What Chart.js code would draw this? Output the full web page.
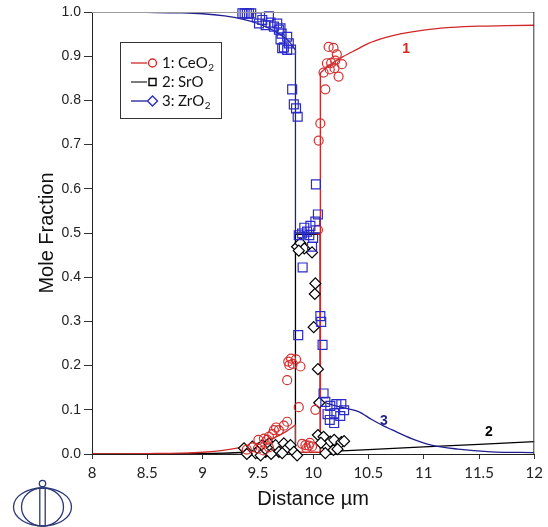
<!DOCTYPE html>
<html><head><meta charset="utf-8">
<script src="https://cdn.jsdelivr.net/npm/chart.js@4.4.1/dist/chart.umd.min.js"></script>
<style>html,body{margin:0;padding:0;background:#fff}canvas{display:block}</style>
</head><body>
<canvas id="c" width="548" height="527" style="width:548px;height:527px"></canvas>
<script>
// ---- tick labels ----
const xTickLabels = ['8','8.5','9','9.5','10','10.5','11','11.5','12'];
const yTickLabels = ['0.0','0.1','0.2','0.3','0.4','0.5','0.6','0.7','0.8','0.9','1.0'];
const axisTitles = ['Distance \u00b5m','Mole Fraction'];

// ---- legend / series names ----
const seriesNums = ['1:','2:','3:'];
const seriesNames = ['CeO','SrO','ZrO'];
const seriesSubs = ['2','','2'];
const curveLabels = ['1','2','3'];
const curveLabelX = [10.84, 11.59, 10.64];
const curveLabelY = [0.916, 0.050, 0.075];

// ---- calculated profiles: CeO2 (1) ----
const ceLeftX  = [8.0, 8.5, 8.8, 9.0, 9.2, 9.4, 9.55, 9.65, 9.75, 9.84];
const ceLeftY  = [0.000, 0.001, 0.002, 0.004, 0.009, 0.018, 0.028, 0.037, 0.050, 0.066];
const ceMidX   = [9.84, 9.84, 10.065, 10.065];
const ceMidY   = [0.066, 0.004, 0.004, 0.862];
const ceRightX = [10.065, 10.15, 10.27, 10.4, 10.5, 10.65, 10.8, 11.0, 11.25, 11.5, 11.75, 12.0];
const ceRightY = [0.862, 0.880, 0.899, 0.916, 0.929, 0.942, 0.951, 0.959, 0.965, 0.968, 0.969, 0.970];

// ---- calculated profiles: SrO (2) ----
const srLeftX  = [8.0, 9.0, 9.4, 9.6, 9.75, 9.84];
const srLeftY  = [0.000, 0.001, 0.004, 0.007, 0.011, 0.016];
const srMidX   = [9.84, 9.84, 10.065, 10.065];
const srMidY   = [0.016, 0.497, 0.497, 0.005];
const srRightX = [10.065, 10.5, 11.0, 11.5, 12.0];
const srRightY = [0.005, 0.010, 0.016, 0.022, 0.028];

// ---- calculated profiles: ZrO2 (3) ----
const zrLeftX  = [8.0, 8.5, 8.8, 9.0, 9.2, 9.36, 9.5, 9.57, 9.65, 9.72, 9.78, 9.84];
const zrLeftY  = [1.000, 0.999, 0.998, 0.996, 0.991, 0.984, 0.974, 0.967, 0.957, 0.946, 0.934, 0.914];
const zrMidX   = [9.84, 9.84, 10.065, 10.065];
const zrMidY   = [0.914, 0.500, 0.500, 0.120];
const zrRightX = [10.065, 10.15, 10.25, 10.41, 10.53, 10.64, 10.71, 10.89, 11.07, 11.31, 11.61, 12.0];
const zrRightY = [0.120, 0.113, 0.106, 0.096, 0.078, 0.063, 0.055, 0.035, 0.020, 0.011, 0.005, 0.003];

// ---- measured points: CeO2 (circles) ----
const ceExpX = [10.14, 10.184, 10.214, 10.124, 10.163, 10.193, 10.26, 10.23, 10.094, 10.11, 10.15, 10.2, 10.065, 10.05, 10.043,
  9.775, 9.80, 9.785, 9.845, 9.885, 9.815, 9.765, 9.87, 10.02,
  9.765, 9.735, 9.69, 9.665, 9.645, 9.63, 9.6, 9.585, 9.555, 9.505,
  9.90, 9.93, 9.96, 9.99, 9.45, 9.40, 9.50, 9.55, 9.60, 9.97, 9.94];
const ceExpY = [0.921, 0.919, 0.904, 0.884, 0.885, 0.873, 0.882, 0.854, 0.863, 0.825, 0.870, 0.890, 0.748, 0.709, 0.507,
  0.209, 0.216, 0.201, 0.214, 0.198, 0.204, 0.167, 0.106, 0.100,
  0.073, 0.064, 0.054, 0.060, 0.054, 0.045, 0.039, 0.032, 0.035, 0.032,
  0.023, 0.020, 0.019, 0.017, 0.015, 0.010, 0.012, 0.008, 0.015, 0.025, 0.013];

// ---- measured points: SrO (diamonds) ----
const srExpX = [9.855, 9.885, 9.92, 9.99, 9.87,
  10.02, 10.015, 10.005, 10.043, 10.055,
  10.043, 10.094, 10.124, 10.155, 10.184, 10.11, 10.19, 10.255, 10.22, 10.28, 10.07,
  9.375, 9.42, 9.45, 9.48, 9.51, 9.54, 9.57, 9.60, 9.63, 9.66, 9.69, 9.735, 9.765, 9.795, 9.825, 9.855, 9.525, 9.40, 9.62, 9.72];
const srExpY = [0.469, 0.477, 0.465, 0.456, 0.460,
  0.386, 0.362, 0.287, 0.192, 0.116,
  0.043, 0.039, 0.017, 0.028, 0.009, 0.002, 0.032, 0.027, 0.011, 0.029, 0.025,
  0.013, 0.005, 0.017, 0.002, 0.009, 0.020, 0.005, 0.024, 0.013, 0.020, 0.005, 0.024, 0.013, 0.020, 0.005, -0.003, -0.003, 0.000, 0.000, 0.002];

// ---- measured points: ZrO2 (squares) ----
const zrExpX = [9.36, 9.38, 9.40, 9.42, 9.44, 9.49, 9.51, 9.54, 9.60, 9.615, 9.57, 9.645, 9.675, 9.69, 9.705, 9.715, 9.705, 9.765, 9.78, 9.735, 9.80, 9.72, 9.765,
  9.81, 9.825, 9.845, 9.86,
  10.025, 10.043, 10.02, 9.975, 9.92, 9.87, 9.90, 9.945, 10.0, 9.99, 9.905, 9.965,
  9.865, 10.065, 10.073, 10.085,
  10.094, 10.11, 10.155, 10.21, 10.255, 10.28, 10.13, 10.19, 10.245, 10.19, 10.15];
const zrExpY = [0.997, 0.997, 0.997, 0.997, 0.997, 0.988, 0.974, 0.982, 0.990, 0.976, 0.970, 0.967, 0.974, 0.960, 0.963, 0.951, 0.938, 0.944, 0.929, 0.920, 0.915, 0.918, 0.914,
  0.825, 0.791, 0.782, 0.763,
  0.610, 0.542, 0.526, 0.516, 0.512, 0.495, 0.499, 0.503, 0.489, 0.469, 0.422, 0.495,
  0.269, 0.312, 0.299, 0.247,
  0.137, 0.118, 0.109, 0.113, 0.113, 0.099, 0.090, 0.092, 0.086, 0.070, 0.077];

const zip = (xs, ys) => xs.map((x, i) => ({x, y: ys[i]}));

const RED = '#d02828', BLUE = '#1f1f8f', BLACK = '#000000';
const RED_M = '#d43030', BLUE_M = '#2b2bc8';

function curve(xs, ys, color, smooth, order) {
  return {
    type: 'scatter', data: zip(xs, ys), showLine: true, pointRadius: 0, pointHoverRadius: 0,
    borderColor: color, borderWidth: 1.3, fill: false,
    cubicInterpolationMode: smooth ? 'monotone' : 'default', tension: 0, order
  };
}

const datasets = [
  curve(srLeftX, srLeftY, BLACK, true, 12), curve(srMidX, srMidY, BLACK, false, 12), curve(srRightX, srRightY, BLACK, false, 12),
  curve(zrLeftX, zrLeftY, BLUE, true, 11), curve(zrMidX, zrMidY, BLUE, false, 11), curve(zrRightX, zrRightY, BLUE, true, 11),
  curve(ceLeftX, ceLeftY, RED, true, 10), curve(ceMidX, ceMidY, RED, false, 10), curve(ceRightX, ceRightY, RED, true, 10),
  { type: 'scatter', data: zip(srExpX, srExpY), pointStyle: 'rectRot', pointRadius: 5.5, pointBorderWidth: 1.2,
    pointBorderColor: BLACK, pointBackgroundColor: '#ffffff', showLine: false, clip: false, order: 3 },
  { type: 'scatter', data: zip(ceExpX, ceExpY), pointStyle: 'circle', pointRadius: 4.5, pointBorderWidth: 1.2,
    pointBorderColor: RED_M, pointBackgroundColor: 'rgba(0,0,0,0)', showLine: false, clip: false, order: 2 },
  { type: 'scatter', data: zip(zrExpX, zrExpY), pointStyle: 'rect', pointRadius: 6.3, pointBorderWidth: 1.2,
    pointBorderColor: BLUE_M, pointBackgroundColor: 'rgba(0,0,0,0)', showLine: false, clip: false, order: 1 }
];

const decor = {
  id: 'decor',
  afterDatasetsDraw(chart) {
    const {ctx, chartArea: a} = chart;
    ctx.save();
    ctx.lineWidth = 1;
    ctx.strokeStyle = '#9a9a9a';
    ctx.beginPath(); ctx.moveTo(a.left, a.top + 0.5); ctx.lineTo(a.right, a.top + 0.5); ctx.stroke();
    ctx.strokeStyle = '#333';
    ctx.beginPath(); ctx.moveTo(a.right - 0.5, a.top); ctx.lineTo(a.right - 0.5, a.bottom); ctx.stroke();
    ctx.restore();
  },
  afterDraw(chart) {
    const {ctx} = chart;
    const xs = chart.scales.x, ys = chart.scales.y;
    ctx.save();
    // curve number labels
    const lc = [RED, BLACK, BLUE];
    ctx.font = 'bold 14px "Liberation Sans", Arial, sans-serif';
    ctx.textAlign = 'center'; ctx.textBaseline = 'middle';
    curveLabels.forEach((t, i) => {
      ctx.fillStyle = lc[i];
      ctx.fillText(t, xs.getPixelForValue(curveLabelX[i]), ys.getPixelForValue(curveLabelY[i]));
    });
    // legend box
    const bx = 120.5, by = 42.5, bw = 101, bh = 76;
    ctx.strokeStyle = '#333'; ctx.lineWidth = 1;
    ctx.fillStyle = '#fff';
    ctx.fillRect(bx, by, bw, bh);
    ctx.strokeRect(bx, by, bw, bh);
    const rowY = [63, 82, 101];
    const lineCol = [RED, '#333', BLUE];
    const mCol = [RED_M, BLACK, BLUE_M];
    rowY.forEach((y, i) => {
      ctx.strokeStyle = lineCol[i]; ctx.lineWidth = 1.3;
      ctx.beginPath(); ctx.moveTo(131, y); ctx.lineTo(147, y); ctx.stroke();
      ctx.strokeStyle = mCol[i]; ctx.lineWidth = 1.4;
      ctx.beginPath();
      if (i === 0) ctx.arc(152.5, y, 4, 0, Math.PI * 2);
      else if (i === 1) ctx.rect(149, y - 3.5, 7, 7);
      else { ctx.moveTo(152.5, y - 5); ctx.lineTo(157.5, y); ctx.lineTo(152.5, y + 5); ctx.lineTo(147.5, y); ctx.closePath(); }
      ctx.stroke();
      ctx.fillStyle = '#111'; ctx.textAlign = 'left'; ctx.textBaseline = 'middle';
      ctx.font = '15px Lato, "Open Sans", sans-serif';
      ctx.fillText(seriesNums[i], 162, y);
      ctx.fillText(seriesNames[i], 178, y);
      const w = ctx.measureText(seriesNames[i]).width;
      if (seriesSubs[i]) {
        ctx.font = '10px Lato, "Open Sans", sans-serif';
        ctx.fillText(seriesSubs[i], 178 + w + 0.5, y + 5);
      }
    });
    // logo
    ctx.strokeStyle = '#2a3778'; ctx.lineWidth = 1.3;
    ctx.beginPath(); ctx.ellipse(42.5, 507, 29, 19, 0, 0, Math.PI * 2); ctx.stroke();
    ctx.beginPath(); ctx.ellipse(42.5, 507, 21, 19, 0, 0, Math.PI * 2); ctx.stroke();
    ctx.beginPath(); ctx.moveTo(39.8, 487.5); ctx.lineTo(39.8, 526); ctx.moveTo(45.2, 487.5); ctx.lineTo(45.2, 526); ctx.stroke();
    ctx.beginPath(); ctx.arc(42.5, 483.5, 3.2, 0, Math.PI * 2); ctx.stroke();
    ctx.restore();
  }
};

new Chart(document.getElementById('c'), {
  type: 'scatter',
  data: { datasets },
  options: {
    responsive: false, animation: false, devicePixelRatio: 1,
    layout: { padding: { left: 0, right: 11, top: 12, bottom: 0 } },
    plugins: { legend: { display: false }, tooltip: { enabled: false } },
    scales: {
      x: {
        type: 'linear', min: 8, max: 12,
        afterFit: s => { s.height = 73; },
        afterBuildTicks: s => { s.ticks = xTickLabels.map(v => ({value: parseFloat(v)})); },
        ticks: { autoSkip: false, maxRotation: 0, padding: 5, color: '#222',
          font: { family: 'Lato, "Open Sans", sans-serif', size: 15 },
          callback: (v, i) => xTickLabels[i] },
        grid: { display: true, drawOnChartArea: false, drawTicks: true, tickLength: 5, color: '#333', lineWidth: 1 },
        border: { display: true, color: '#222', width: 1 },
        title: { display: true, text: axisTitles[0], color: '#111', padding: { top: 0, bottom: 16 },
          font: { family: '"Liberation Sans", Arial, sans-serif', size: 20 } }
      },
      y: {
        type: 'linear', min: 0, max: 1,
        afterFit: s => { s.width = 92; },
        afterBuildTicks: s => { s.ticks = yTickLabels.map(v => ({value: parseFloat(v)})); },
        ticks: { autoSkip: false, padding: 3, color: '#222',
          font: { family: '"Liberation Sans", Arial, sans-serif', size: 14 },
          callback: (v, i) => yTickLabels[i] },
        grid: { display: true, drawOnChartArea: false, drawTicks: true, tickLength: 8, color: '#333', lineWidth: 1 },
        border: { display: true, color: '#222', width: 1 },
        title: { display: true, text: axisTitles[1], color: '#111', padding: { top: 35, bottom: 0 },
          font: { family: '"Liberation Sans", Arial, sans-serif', size: 20 } }
      }
    }
  },
  plugins: [decor]
});
</script>
</body></html>
